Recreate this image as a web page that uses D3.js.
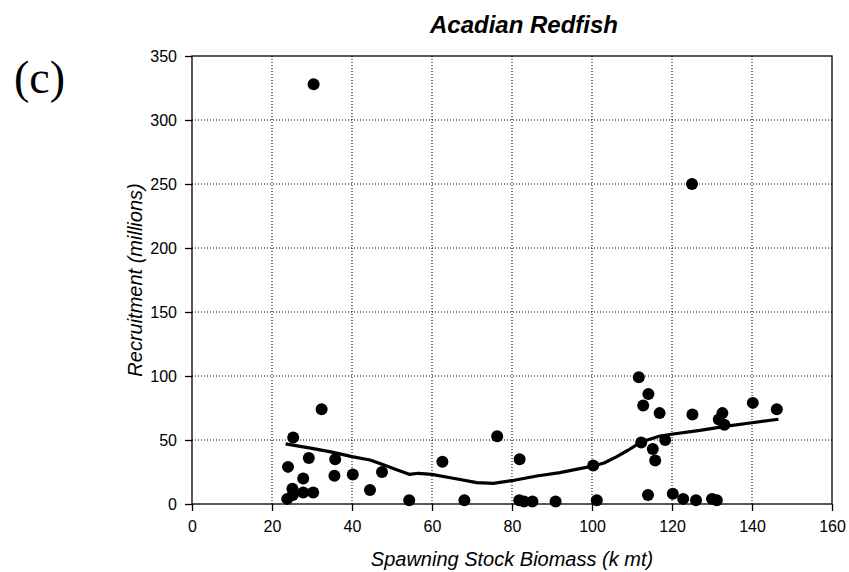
<!DOCTYPE html>
<html>
<head>
  <meta charset="utf-8" />
  <style>
    body { margin: 0; background: #fff; }
    text { font-family: "Liberation Sans", Arial, sans-serif; fill: #000; }
    .grid line { stroke: #000; stroke-width: 1; stroke-dasharray: 1,2; }
    .frame { fill: none; stroke: #000; stroke-width: 1.3; }
  </style>
</head>
<body>
  <svg id="container" width="849" height="572"></svg>
  <script src="https://cdn.jsdelivr.net/npm/d3@7/dist/d3.min.js" charset="utf-8"></script>
<script>
// spawning stock biomass (k mt) and recruitment (millions)
var ssb = [30.4, 125, 32.4, 25.3, 29.2, 35.8, 24.0, 27.8, 35.6, 40.2, 47.5, 44.5,
  25.1, 27.8, 30.3, 23.8, 25.2, 54.3, 62.6, 68.1, 76.3, 81.9, 81.8, 83.0, 85.1,
  90.9, 101.2, 100.3, 111.7, 114.1, 112.8, 116.9, 112.3, 115.2, 115.8, 118.3,
  114.0, 120.2, 122.8, 126.0, 130.0, 131.2, 125.1, 132.6, 131.7, 133.1, 140.2, 146.2];
var recruits = [328, 250, 74, 52, 36, 35, 29, 20, 22, 23, 25, 11,
  12, 9, 9, 4, 7, 3, 33, 3, 53, 35, 3, 2, 2,
  2, 3, 30, 99, 86, 77, 71, 48, 43, 34, 50,
  7, 8, 4, 3, 4, 3, 70, 71, 66, 62, 79, 74];

// smoothed fit
var fitX = [23.4, 30, 35, 40, 44.5, 47.5, 51, 54.3, 56.6, 59.9, 65.3, 71.2, 75.3,
  79.9, 86.2, 92, 96, 100.3, 103, 106.2, 109, 112.25, 117, 120.3, 127, 133.7, 140, 146.6];
var fitY = [47, 43.5, 40.5, 37, 34.4, 31, 27, 23.2, 24, 23.2, 20.1, 16.7, 16.1,
  18.2, 21.9, 24.5, 27, 29.7, 32, 37, 42, 48.4, 53.1, 54.7, 57.5, 60.9, 63.5, 66.2];

var xTicks = [0, 20, 40, 60, 80, 100, 120, 140, 160];
var yTicks = [0, 50, 100, 150, 200, 250, 300, 350];

var plotL = 192, plotR = 832, plotT = 56, plotB = 504;
var svg = d3.select('#container');

var x = d3.scaleLinear().domain([0, 160]).range([plotL, plotR]);
var y = d3.scaleLinear().domain([0, 350]).range([plotB, plotT]);

// dotted grid
var grid = svg.append('g').attr('class', 'grid');
grid.selectAll('.gx').data(xTicks.slice(1, -1)).enter().append('line')
  .attr('x1', function (d) { return x(d); }).attr('x2', function (d) { return x(d); })
  .attr('y1', plotT).attr('y2', plotB);
grid.selectAll('.gy').data(yTicks.slice(1, -1)).enter().append('line')
  .attr('y1', function (d) { return y(d); }).attr('y2', function (d) { return y(d); })
  .attr('x1', plotL).attr('x2', plotR);

svg.append('rect').attr('class', 'frame')
  .attr('x', plotL).attr('y', plotT)
  .attr('width', plotR - plotL).attr('height', plotB - plotT);

var xAxis = svg.append('g')
  .attr('transform', 'translate(0,' + plotB + ')')
  .call(d3.axisBottom(x).tickValues(xTicks).tickSize(7).tickPadding(10));
var yAxis = svg.append('g')
  .attr('transform', 'translate(' + plotL + ',0)')
  .call(d3.axisLeft(y).tickValues(yTicks).tickSize(7).tickPadding(8));
[xAxis, yAxis].forEach(function (a) {
  a.select('.domain').remove();
  a.selectAll('line').attr('stroke', '#000').attr('stroke-width', 1.3);
  a.selectAll('text').attr('font-size', 16).attr('font-family', '"Liberation Sans", Arial, sans-serif');
});

// points
svg.append('g').selectAll('circle')
  .data(ssb).enter().append('circle')
  .attr('cx', function (d) { return x(d); })
  .attr('cy', function (d, i) { return y(recruits[i]); })
  .attr('r', 6)
  .attr('fill', '#000');

var line = d3.line()
  .x(function (d) { return x(d); })
  .y(function (d, i) { return y(fitY[i]); });
svg.append('path').datum(fitX)
  .attr('d', line)
  .attr('fill', 'none')
  .attr('stroke', '#000')
  .attr('stroke-width', 3.2)
  .attr('stroke-linejoin', 'round');

// labels
svg.append('text')
  .attr('x', 524).attr('y', 33)
  .attr('text-anchor', 'middle')
  .attr('font-size', 24).attr('font-weight', 'bold').attr('font-style', 'italic')
  .text('Acadian Redfish');

svg.append('text')
  .attr('x', (plotL + plotR) / 2).attr('y', 566)
  .attr('text-anchor', 'middle')
  .attr('font-size', 20).attr('font-style', 'italic')
  .text('Spawning Stock Biomass (k mt)');

svg.append('text')
  .attr('transform', 'translate(142,' + (plotT + plotB) / 2 + ') rotate(-90)')
  .attr('text-anchor', 'middle')
  .attr('font-size', 20).attr('font-style', 'italic')
  .text('Recruitment (millions)');

svg.append('text')
  .attr('x', 14).attr('y', 93)
  .style('font-family', '"Liberation Serif", "Times New Roman", serif')
  .attr('font-size', 46)
  .text('(c)');
</script>
</body>
</html>
